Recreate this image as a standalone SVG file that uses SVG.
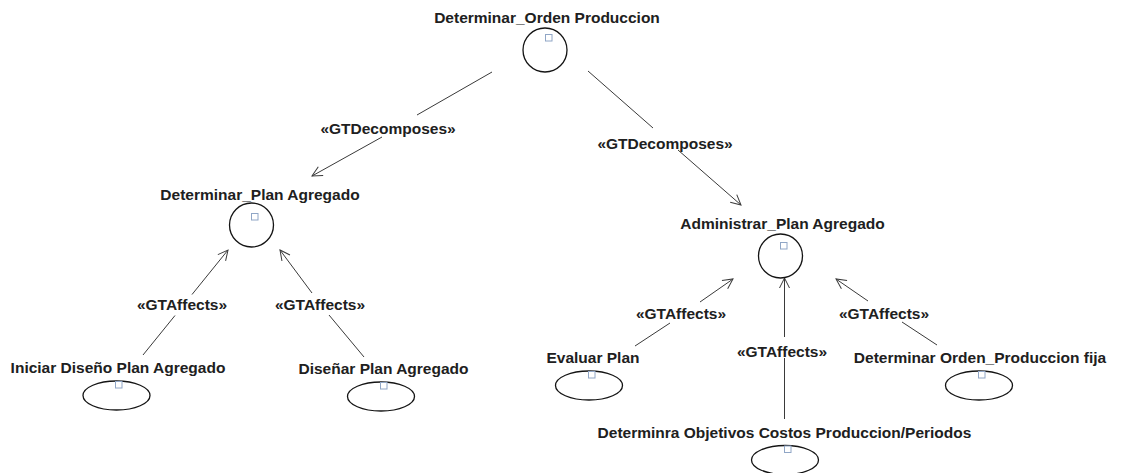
<svg xmlns="http://www.w3.org/2000/svg" width="1121" height="473" viewBox="0 0 1121 473">
  <style>
    .lbl { font-family: "Liberation Sans", Arial, sans-serif; font-weight: bold; font-size: 15.5px; fill: #202020; text-anchor: middle; }
    .goal { fill: #ffffff; stroke: #141414; stroke-width: 1.3; }
    .task { fill: #ffffff; stroke: #141414; stroke-width: 1.3; }
    .tag { fill: #ffffff; stroke: #90a6c6; stroke-width: 1; }
    .edge { stroke: #3a3a3a; stroke-width: 1; fill: none; }
    .edge-end { stroke: #3a3a3a; stroke-width: 1; fill: none; marker-end: url(#open); }
  </style>
  <defs>
    <marker id="open" viewBox="0 0 12 12" markerWidth="12" markerHeight="12" refX="10" refY="5" orient="auto" markerUnits="userSpaceOnUse" overflow="visible">
      <path d="M0,0 L10,5 L0,10" fill="none" stroke="#3a3a3a" stroke-width="1"/>
    </marker>
  </defs>
  <rect width="1121" height="473" fill="#ffffff"/>

  <!-- relationships -->
  <g id="connectors">
    <!-- decompositions -->
    <line class="edge" x1="492" y1="72" x2="417" y2="115"/>
    <line class="edge-end" x1="382" y1="137" x2="312" y2="176"/>
    <text class="lbl" x="388" y="134">«GTDecomposes»</text>

    <line class="edge" x1="588" y1="71" x2="653" y2="128"/>
    <line class="edge-end" x1="678" y1="150" x2="741" y2="205"/>
    <text class="lbl" x="665" y="149">«GTDecomposes»</text>

    <!-- affects: left goal -->
    <line class="edge" x1="143" y1="355" x2="175" y2="315.5"/>
    <line class="edge-end" x1="192" y1="294.5" x2="228" y2="250"/>
    <text class="lbl" x="182" y="310">«GTAffects»</text>

    <line class="edge" x1="364" y1="357" x2="329" y2="315"/>
    <line class="edge-end" x1="312" y1="293" x2="280" y2="250"/>
    <text class="lbl" x="320" y="310">«GTAffects»</text>

    <!-- affects: right goal -->
    <line class="edge" x1="635" y1="346" x2="670" y2="323"/>
    <line class="edge-end" x1="700" y1="302" x2="733" y2="279"/>
    <text class="lbl" x="681" y="319">«GTAffects»</text>

    <line class="edge" x1="784.5" y1="419" x2="784.5" y2="358"/>
    <line class="edge-end" x1="784.5" y1="337" x2="784.5" y2="278"/>
    <text class="lbl" x="782" y="357">«GTAffects»</text>

    <line class="edge" x1="937" y1="345" x2="902" y2="322"/>
    <line class="edge-end" x1="868" y1="301" x2="836" y2="279"/>
    <text class="lbl" x="884" y="319">«GTAffects»</text>
  </g>

  <!-- goals -->
  <g id="goal-orden-produccion">
    <text class="lbl" x="547" y="23">Determinar_Orden Produccion</text>
    <circle class="goal" cx="545" cy="50" r="22"/>
    <rect class="tag" x="545.5" y="34.5" width="6.5" height="6.5"/>
  </g>
  <g id="goal-determinar-plan">
    <text class="lbl" x="260" y="200">Determinar_Plan Agregado</text>
    <circle class="goal" cx="251.5" cy="225" r="22"/>
    <rect class="tag" x="251.5" y="213.5" width="6.5" height="6.5"/>
  </g>
  <g id="goal-administrar-plan">
    <text class="lbl" x="782.5" y="229">Administrar_Plan Agregado</text>
    <circle class="goal" cx="780.5" cy="256" r="22"/>
    <rect class="tag" x="780.5" y="242.5" width="6.5" height="6.5"/>
  </g>

  <!-- tasks -->
  <g id="task-iniciar-diseno">
    <text class="lbl" x="118" y="373">Iniciar Diseño Plan Agregado</text>
    <ellipse class="task" cx="116.5" cy="395.5" rx="33.5" ry="14.5"/>
    <rect class="tag" x="115.5" y="381.5" width="6.5" height="6.5"/>
  </g>
  <g id="task-disenar-plan">
    <text class="lbl" x="383.5" y="374">Diseñar Plan Agregado</text>
    <ellipse class="task" cx="381" cy="396.5" rx="33.5" ry="14.5"/>
    <rect class="tag" x="380.5" y="382.5" width="6.5" height="6.5"/>
  </g>
  <g id="task-evaluar-plan">
    <text class="lbl" x="593" y="363">Evaluar Plan</text>
    <ellipse class="task" cx="589" cy="385.5" rx="33.5" ry="14.5"/>
    <rect class="tag" x="588.5" y="371.5" width="6.5" height="6.5"/>
  </g>
  <g id="task-orden-fija">
    <text class="lbl" x="980" y="363">Determinar Orden_Produccion fija</text>
    <ellipse class="task" cx="979" cy="385.5" rx="33.5" ry="14.5"/>
    <rect class="tag" x="978.5" y="371.5" width="6.5" height="6.5"/>
  </g>
  <g id="task-objetivos-costos">
    <text class="lbl" x="784.5" y="438">Determinra Objetivos Costos Produccion/Periodos</text>
    <ellipse class="task" cx="785" cy="460" rx="33.5" ry="14.5"/>
    <rect class="tag" x="784.5" y="446" width="6.5" height="6.5"/>
  </g>
</svg>
